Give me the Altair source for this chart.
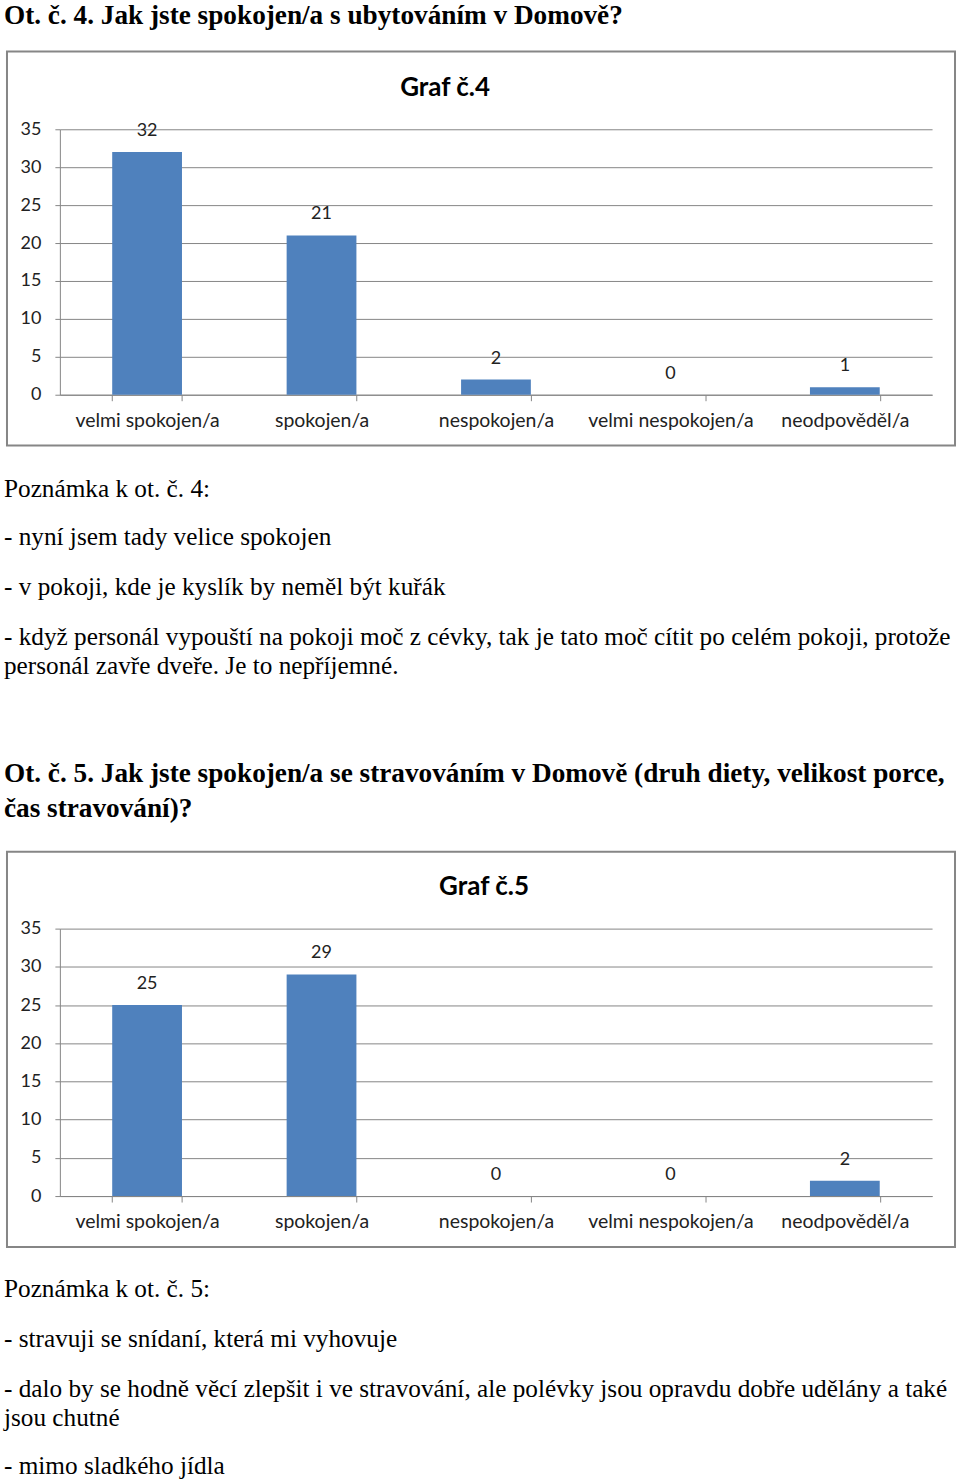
import altair as alt
import pandas as pd

# ---------------- data ----------------
categories = ["velmi spokojen/a", "spokojen/a", "nespokojen/a", "velmi nespokojen/a", "neodpověděl/a"]
values_q4 = [32, 21, 2, 0, 1]
values_q5 = [25, 29, 0, 0, 2]
y_ticks = [0, 5, 10, 15, 20, 25, 30, 35]

heading_q4 = ["Ot. č. 4. Jak jste spokojen/a s ubytováním v Domově?"]
title_q4 = "Graf č.4"
notes_q4 = [
    "Poznámka k ot. č. 4:",
    "- nyní jsem tady velice spokojen",
    "- v pokoji, kde je kyslík by neměl být kuřák",
    "- když personál vypouští na pokoji moč z cévky, tak je tato moč cítit po celém pokoji, protože",
    "personál zavře dveře. Je to nepříjemné.",
]
heading_q5 = [
    "Ot. č. 5. Jak jste spokojen/a se stravováním v Domově (druh diety, velikost porce,",
    "čas stravování)?",
]
title_q5 = "Graf č.5"
notes_q5 = [
    "Poznámka k ot. č. 5:",
    "- stravuji se snídaní, která mi vyhovuje",
    "- dalo by se hodně věcí zlepšit i ve stravování, ale polévky jsou opravdu dobře udělány a také",
    "jsou chutné",
    "- mimo sladkého jídla",
]

# ---------------- layout (page pixels) ----------------
PAGE_W, PAGE_H = 960, 1482
X0, PLOT_W = 59, 874
TOP1, H1 = 127, 266
TOP2, H2 = 928, 268
SERIF = "Liberation Serif"
SANS = "Lato"
GRAY = "#868686"
BLUE = "#4F81BD"
HEAD_SIZE = 27.3
BODY_SIZE = 25.3
TITLE_SIZE = 26

one_row = pd.DataFrame({"k": [0]})


def text_at(s, px, py, origin, size, bold=False, font=SERIF, align="left"):
    return alt.Chart(one_row).mark_text(
        text=s, align=align, baseline="middle", font=font, fontSize=size,
        fontWeight="bold" if bold else "normal", color="black",
    ).encode(x=alt.value(px - X0), y=alt.value(py - origin))


def rect_at(x1, y1, x2, y2, origin, **kw):
    return alt.Chart(one_row).mark_rect(**kw).encode(
        x=alt.value(x1 - X0), x2=alt.value(x2 - X0),
        y=alt.value(y1 - origin), y2=alt.value(y2 - origin),
    )


X_ENC = alt.X("cat:N", sort=categories,
              scale=alt.Scale(paddingInner=0.6, paddingOuter=0.3),
              axis=alt.Axis(title=None, labelAngle=0, tickBand="extent", tickSize=6,
                            tickColor=GRAY, domainColor=GRAY, labelPadding=11,
                            labelFont=SANS, labelFontSize=19.5, labelColor="#222222",
                            grid=False))
Y_ENC = alt.Y("val:Q", scale=alt.Scale(domain=[0, 35], nice=False),
              axis=alt.Axis(title=None, values=y_ticks, grid=True, gridColor=GRAY,
                            tickColor=GRAY, domainColor=GRAY, tickSize=5,
                            labelOverlap=False, labelPadding=14, labelFont=SANS,
                            labelFontSize=18, labelColor="#222222"))


def bar_layers(values):
    df = pd.DataFrame({"cat": categories, "val": values})
    base = alt.Chart(df)
    bars = base.mark_bar(color=BLUE).encode(x=X_ENC, y=Y_ENC)
    labels = base.mark_text(dy=-21, baseline="middle", font=SANS, fontSize=18,
                            color="#222222").encode(x=X_ENC, y=Y_ENC, text="val:Q")
    return bars, labels


# ---------------- chart 1 (with heading, notes, heading 2) ----------------
bars1, labels1 = bar_layers(values_q4)
layers1 = [
    rect_at(0, 0, PAGE_W, TOP1, TOP1, fill="transparent"),
    rect_at(6, 49, 956, 444, TOP1, fill="transparent", stroke=GRAY, strokeWidth=2),
    bars1, labels1,
    text_at(heading_q4[0], 3, 14, TOP1, HEAD_SIZE, bold=True),
    text_at(title_q4, 445, 86, TOP1, TITLE_SIZE, bold=True, font=SANS, align="center"),
    text_at(notes_q4[0], 3, 487, TOP1, BODY_SIZE),
    text_at(notes_q4[1], 3, 536, TOP1, BODY_SIZE),
    text_at(notes_q4[2], 3, 586, TOP1, BODY_SIZE),
    text_at(notes_q4[3], 3, 636, TOP1, BODY_SIZE),
    text_at(notes_q4[4], 3, 665, TOP1, BODY_SIZE),
    text_at(heading_q5[0], 3, 773, TOP1, HEAD_SIZE, bold=True),
    text_at(heading_q5[1], 3, 808, TOP1, HEAD_SIZE, bold=True),
]
chart1 = alt.layer(*layers1).properties(width=PLOT_W, height=H1)

# ---------------- chart 2 (with notes) ----------------
bars2, labels2 = bar_layers(values_q5)
layers2 = [
    rect_at(0, TOP2, PAGE_W, PAGE_H, TOP2, fill="transparent"),
    rect_at(6, 851, 956, 1247, TOP2, fill="transparent", stroke=GRAY, strokeWidth=2),
    bars2, labels2,
    text_at(title_q5, 484, 886, TOP2, TITLE_SIZE, bold=True, font=SANS, align="center"),
    text_at(notes_q5[0], 3, 1289, TOP2, BODY_SIZE),
    text_at(notes_q5[1], 3, 1339, TOP2, BODY_SIZE),
    text_at(notes_q5[2], 3, 1389, TOP2, BODY_SIZE),
    text_at(notes_q5[3], 3, 1418, TOP2, BODY_SIZE),
    text_at(notes_q5[4], 3, 1467, TOP2, BODY_SIZE),
]
chart2 = alt.layer(*layers2).properties(width=PLOT_W, height=H2)

chart = alt.vconcat(
    chart1, chart2, spacing=TOP2 - (TOP1 + H1), bounds="flush"
).properties(
    padding=0, background="white"
).configure_view(stroke="transparent")

chart.save("out.html", embed_options={"renderer": "svg", "actions": False})
